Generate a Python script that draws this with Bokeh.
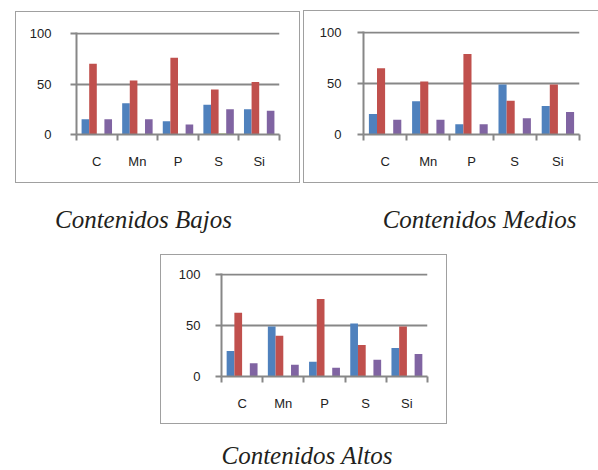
from bokeh.plotting import figure
from bokeh.models import (Range1d, LinearAxis, FixedTicker, Div, ColumnDataSource)
from bokeh.layouts import column, row
from bokeh.transform import dodge
from bokeh.embed import file_html
from bokeh.resources import INLINE

# ---------------- data ----------------
elements = ["C", "Mn", "P", "S", "Si"]
colors = ["#4F81BD", "#C0504D", "#9BBB59", "#8064A2"]

bajos_s1 = [15, 31, 13, 29.5, 25]
bajos_s2 = [70, 53.5, 76, 44.5, 52]
bajos_s3 = [0, 0, 0, 1, 0]
bajos_s4 = [15, 15, 10, 25, 23.5]

medios_s1 = [20, 32.5, 10, 49, 28]
medios_s2 = [65, 52, 79, 33, 49]
medios_s3 = [0, 0, 0, 0, 0]
medios_s4 = [14.5, 14.5, 10, 16, 22]

altos_s1 = [25, 49, 14.5, 52, 28]
altos_s2 = [62.5, 40, 76, 31, 49]
altos_s3 = [0, 0, 0, 0, 0]
altos_s4 = [13, 11.5, 8.5, 16.5, 22]

captions = ["Contenidos Bajos", "Contenidos Medios", "Contenidos Altos"]
y_ticks = [0, 50, 100]

GREY = "#878787"
BOXC = "#a0a0a0"
BOX_ALL = f"inset 0 0 0 1px {BOXC}"
BOX_NO_RIGHT = (f"inset 1px 0 0 0 {BOXC}, inset 0 1px 0 0 {BOXC}, "
                f"inset 0 -1px 0 0 {BOXC}")
LABEL_FONT = "Liberation Sans"


def make_chart(s1, s2, s3, s4, width, height, bl, br, bt, bb, margin, ystand, box):
    n = len(elements)
    centers = [i + 0.5 for i in range(n)]          # category slot centres
    src = ColumnDataSource(dict(x=centers, el=elements, s1=s1, s2=s2, s3=s3, s4=s4))
    p = figure(x_range=Range1d(0, n), y_range=Range1d(0, 101),
               width=width, height=height, output_backend="svg",
               toolbar_location=None, x_axis_location=None, title=None,
               min_border_left=bl, min_border_right=br,
               min_border_top=bt, min_border_bottom=bb, margin=margin)
    p.styles = {"box-shadow": box, "background-color": "white"}
    p.outline_line_color = None
    p.background_fill_color = None
    p.border_fill_color = None

    offsets = [-0.28125, -0.09375, 0.09375, 0.28125]
    for i, col in enumerate(["s1", "s2", "s3", "s4"]):
        p.vbar(x=dodge("x", offsets[i]), top=col,
               width=0.1875, source=src, fill_color=colors[i], line_color=None)

    # x axis: ticks between categories (minor ticks), labels at centres
    xt = FixedTicker(ticks=centers, minor_ticks=list(range(n + 1)))
    xa = LinearAxis(ticker=xt,
                    major_label_overrides={c: e for c, e in zip(centers, elements)})
    xa.major_tick_line_color = None
    xa.major_tick_out = 0
    xa.major_tick_in = 0
    xa.minor_tick_out = 6
    xa.minor_tick_in = 0
    xa.minor_tick_line_color = GREY
    xa.minor_tick_line_width = 2
    xa.axis_line_color = GREY
    xa.axis_line_width = 2
    xa.major_label_standoff = 13
    xa.major_label_text_font = LABEL_FONT
    xa.major_label_text_font_size = "13px"
    xa.major_label_text_color = "#222222"
    p.add_layout(xa, "below")

    ya = p.yaxis[0]
    ya.ticker = FixedTicker(ticks=y_ticks)
    ya.major_tick_out = 6
    ya.major_tick_in = 0
    ya.minor_tick_line_color = None
    ya.major_tick_line_color = GREY
    ya.major_tick_line_width = 2
    ya.axis_line_color = GREY
    ya.axis_line_width = 2
    ya.major_label_standoff = ystand
    ya.major_label_text_font = LABEL_FONT
    ya.major_label_text_font_size = "13px"
    ya.major_label_text_color = "#222222"

    p.xgrid.visible = False
    p.ygrid.ticker = FixedTicker(ticks=y_ticks)
    p.ygrid.grid_line_color = GREY
    p.ygrid.grid_line_width = 2
    return p


def caption(text, width, height, margin):
    return Div(text=text, width=width, height=height, margin=margin,
               styles={"font-family": "Liberation Serif", "font-style": "italic",
                       "font-size": "25px", "line-height": "1",
                       "color": "#231f20", "text-align": "center",
                       "overflow": "visible", "white-space": "nowrap"})


p1 = make_chart(bajos_s1, bajos_s2, bajos_s3, bajos_s4,
                285, 172, 61, 21, 20, 49, (11, 0, 0, 15), 19, BOX_ALL)
p2 = make_chart(medios_s1, medios_s2, medios_s3, medios_s4,
                295, 173, 60, 19, 21, 49, (10, 0, 0, 3), 16, BOX_NO_RIGHT)
p3 = make_chart(altos_s1, altos_s2, altos_s3, altos_s4,
                287, 170, 61, 20, 19, 48, (0, 0, 0, 160), 15, BOX_ALL)

d1 = caption(captions[0], 287, 25, (24, 0, 22, 0))
d2 = caption(captions[1], 237, 25, (24, 0, 22, 74))
d3 = caption(captions[2], 582, 25, (19, 0, 0, 16))

layout = column(row(p1, p2), row(d1, d2), p3, d3)

open("out.html", "w").write(file_html(layout, INLINE))
